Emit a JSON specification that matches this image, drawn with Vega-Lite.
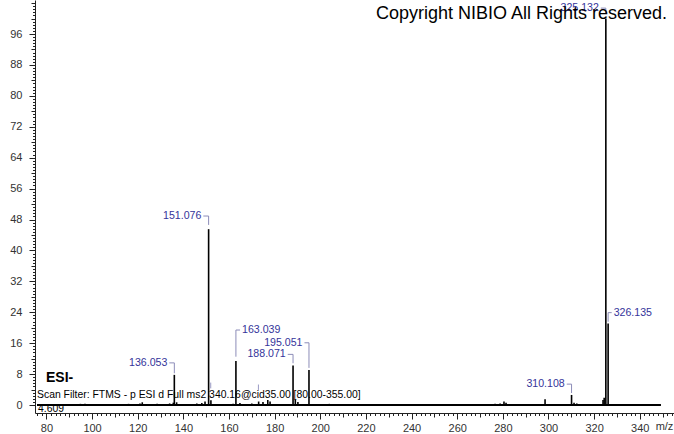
{
  "$schema": "https://vega.github.io/schema/vega-lite/v6.json",
  "autosize": {"type": "none"},
  "padding": {"left": 35, "top": 0, "right": 0, "bottom": 21},
  "width": 639,
  "height": 413,
  "background": "white",
  "view": {"stroke": null},
  "config": {"font": "Liberation Sans", "axis": {"grid": false, "domainColor": "#222222", "tickColor": "#222222", "labelFont": "Liberation Sans", "labelFontSize": 11, "labelColor": "#333333"}},
  "resolve": {"axis": {"x": "independent", "y": "independent"}},
  "datasets": {
    "peaks": [
      {"mz": 94.9, "h": 0.3}, {"mz": 96.9, "h": 0.3}, {"mz": 116.0, "h": 0.3},
      {"mz": 121.0, "h": 0.4}, {"mz": 122.0, "h": 0.7}, {"mz": 128.5, "h": 0.3},
      {"mz": 134.0, "h": 0.4}, {"mz": 135.6, "h": 0.6}, {"mz": 136.053, "h": 7.8},
      {"mz": 137.06, "h": 0.7}, {"mz": 145.9, "h": 0.4}, {"mz": 148.1, "h": 0.5},
      {"mz": 149.5, "h": 0.9}, {"mz": 151.076, "h": 45.5}, {"mz": 152.08, "h": 1.2},
      {"mz": 161.8, "h": 0.3}, {"mz": 163.039, "h": 11.4}, {"mz": 164.8, "h": 0.5},
      {"mz": 170.0, "h": 0.4}, {"mz": 173.0, "h": 0.9}, {"mz": 174.9, "h": 0.8},
      {"mz": 177.0, "h": 1.3}, {"mz": 178.0, "h": 0.9}, {"mz": 188.071, "h": 10.2},
      {"mz": 189.07, "h": 1.4}, {"mz": 190.2, "h": 0.8}, {"mz": 195.051, "h": 9.05},
      {"mz": 204.0, "h": 0.3}, {"mz": 276.6, "h": 0.3}, {"mz": 278.8, "h": 0.4},
      {"mz": 280.5, "h": 0.9}, {"mz": 281.4, "h": 0.6}, {"mz": 298.5, "h": 1.5},
      {"mz": 310.108, "h": 2.6}, {"mz": 311.2, "h": 0.6}, {"mz": 312.4, "h": 0.4},
      {"mz": 323.9, "h": 1.3}, {"mz": 324.4, "h": 1.9}, {"mz": 325.132, "h": 100},
      {"mz": 326.135, "h": 21.1}
    ],
    "labels": [
      {"label": "136.053", "mz": 136.053, "c0": 8.2, "c1": 10.9, "hx": 133.85, "align": "right"},
      {"label": "151.076", "mz": 151.076, "c0": 46.6, "c1": 48.9, "hx": 148.75, "align": "right"},
      {"label": "163.039", "mz": 163.039, "c0": 12.5, "c1": 19.4, "hx": 164.85, "align": "left"},
      {"label": "188.071", "mz": 188.071, "c0": 10.8, "c1": 13.1, "hx": 185.75, "align": "right"},
      {"label": "195.051", "mz": 195.051, "c0": 9.6, "c1": 16.1, "hx": 193.08, "align": "right"},
      {"label": "310.108", "mz": 310.108, "c0": 3.1, "c1": 5.4, "hx": 308.0, "align": "right"},
      {"label": "325.132", "mz": 325.132, "c0": 101.2, "c1": 102.7, "hx": 322.94, "align": "right"},
      {"label": "326.135", "mz": 326.135, "c0": 21.55, "c1": 23.9, "hx": 327.7, "align": "left"}
    ],
    "faint": [
      {"mz": 152.0, "y1": 4.3, "y2": 5.8},
      {"mz": 172.9, "y1": 3.9, "y2": 5.3}
    ],
    "notes": [
      {"kind": "copyright", "x": 351.95, "y": 101.2, "text": "Copyright NIBIO All Rights reserved."},
      {"kind": "esi", "x": 79.8, "y": 7.0, "text": "ESI-"},
      {"kind": "small", "x": 75.9, "y": 2.6, "text": "Scan Filter: FTMS - p ESI d Full ms2 340.16@cid35.00 [80.00-355.00]"},
      {"kind": "small", "x": 76.3, "y": -1.03, "text": "4.609"}
    ]
  },
  "layer": [
    {
      "data": {"name": "peaks"},
      "mark": {"type": "rule", "color": "black", "strokeWidth": 1.6},
      "encoding": {
        "x": {
          "field": "mz", "type": "quantitative",
          "scale": {"domain": [75, 355], "nice": false, "zero": false},
          "axis": {
            "orient": "bottom",
            "title": "m/z",
            "titleFont": "Liberation Sans", "titleFontSize": 11, "titleFontWeight": "normal", "titleColor": "#333333",
            "titleAlign": "center", "titleBaseline": "middle", "titleX": 629, "titleY": 13,
            "values": [80,100,120,140,160,180,200,220,240,260,280,300,320,340],
            "tickSize": 6, "labelPadding": 3,
            "labelOverlap": false, "labelFlush": false, "labelBound": false
          }
        },
        "y": {
          "field": "h", "type": "quantitative",
          "scale": {"domain": [-2.07, 104.8], "nice": false, "zero": false},
          "axis": {
            "orient": "left",
            "title": null,
            "values": [0,8,16,24,32,40,48,56,64,72,80,88,96],
            "tickSize": 6, "labelPadding": 7,
            "labelOverlap": false, "labelFlush": false, "labelBound": false
          }
        },
        "y2": {"datum": 0}
      }
    },
    {
      "data": {"name": "faint"},
      "mark": {"type": "rule", "color": "#9a9ac4", "strokeWidth": 1},
      "encoding": {
        "x": {"field": "mz", "type": "quantitative", "scale": {"domain": [75, 355], "nice": false, "zero": false},
          "axis": {"orient": "bottom", "title": null, "labels": false, "domain": false, "tickSize": 4,
            "values": [90,110,130,150,170,190,210,230,250,270,290,310,330,350]}},
        "y": {"field": "y1", "type": "quantitative", "scale": {"domain": [-2.07, 104.8], "nice": false, "zero": false},
          "axis": {"orient": "left", "title": null, "labels": false, "domain": false, "tickSize": 4,
            "values": [4,12,20,28,36,44,52,60,68,76,84,92,100,104]}},
        "y2": {"field": "y2"}
      }
    },
    {
      "data": {"name": "labels"},
      "mark": {"type": "rule", "color": "#8c8cb8", "strokeWidth": 1},
      "encoding": {
        "x": {"field": "mz", "type": "quantitative", "scale": {"domain": [75, 355], "nice": false, "zero": false},
          "axis": {"orient": "bottom", "title": null, "labels": false, "domain": false, "tickSize": 2.5,
            "values": [76,78,82,84,86,88,92,94,96,98,102,104,106,108,112,114,116,118,122,124,126,128,132,134,136,138,142,144,146,148,152,154,156,158,162,164,166,168,172,174,176,178,182,184,186,188,192,194,196,198,202,204,206,208,212,214,216,218,222,224,226,228,232,234,236,238,242,244,246,248,252,254,256,258,262,264,266,268,272,274,276,278,282,284,286,288,292,294,296,298,302,304,306,308,312,314,316,318,322,324,326,328,332,334,336,338,342,344,346,348,352,354]}},
        "y": {"field": "c0", "type": "quantitative", "scale": {"domain": [-2.07, 104.8], "nice": false, "zero": false},
          "axis": {"orient": "left", "title": null, "labels": false, "domain": false, "tickSize": 2.5,
            "values": [0.8,1.6,2.4,3.2,4.8,5.6,6.4,7.2,8.8,9.6,10.4,11.2,12.8,13.6,14.4,15.2,16.8,17.6,18.4,19.2,20.8,21.6,22.4,23.2,24.8,25.6,26.4,27.2,28.8,29.6,30.4,31.2,32.8,33.6,34.4,35.2,36.8,37.6,38.4,39.2,40.8,41.6,42.4,43.2,44.8,45.6,46.4,47.2,48.8,49.6,50.4,51.2,52.8,53.6,54.4,55.2,56.8,57.6,58.4,59.2,60.8,61.6,62.4,63.2,64.8,65.6,66.4,67.2,68.8,69.6,70.4,71.2,72.8,73.6,74.4,75.2,76.8,77.6,78.4,79.2,80.8,81.6,82.4,83.2,84.8,85.6,86.4,87.2,88.8,89.6,90.4,91.2,92.8,93.6,94.4,95.2,96.8,97.6,98.4,99.2,100.8,101.6,102.4,103.2]}},
        "y2": {"field": "c1"}
      }
    },
    {
      "data": {"name": "peaks"},
      "mark": {"type": "rule", "color": "black", "strokeWidth": 1.6},
      "encoding": {
        "x": {"datum": 75.9, "type": "quantitative", "scale": {"domain": [75, 355], "nice": false, "zero": false}, "axis": null},
        "x2": {"datum": 348.9},
        "y": {"datum": 0, "type": "quantitative", "scale": {"domain": [-2.07, 104.8], "nice": false, "zero": false}, "axis": null}
      }
    },
    {
      "data": {"name": "labels"},
      "mark": {"type": "rule", "color": "#8c8cb8", "strokeWidth": 1},
      "encoding": {
        "x": {"field": "mz", "type": "quantitative", "scale": {"domain": [75, 355], "nice": false, "zero": false}, "axis": null},
        "x2": {"field": "hx"},
        "y": {"field": "c1", "type": "quantitative", "scale": {"domain": [-2.07, 104.8], "nice": false, "zero": false}, "axis": null}
      }
    },
    {
      "data": {"name": "labels"},
      "transform": [{"filter": "datum.align === 'right'"}],
      "mark": {"type": "text", "align": "right", "baseline": "middle", "dx": -2, "font": "Liberation Sans", "fontSize": 10.6, "color": "#34349a"},
      "encoding": {
        "x": {"field": "hx", "type": "quantitative", "scale": {"domain": [75, 355], "nice": false, "zero": false}, "axis": null},
        "y": {"field": "c1", "type": "quantitative", "scale": {"domain": [-2.07, 104.8], "nice": false, "zero": false}, "axis": null},
        "text": {"field": "label"}
      }
    },
    {
      "data": {"name": "labels"},
      "transform": [{"filter": "datum.align === 'left'"}],
      "mark": {"type": "text", "align": "left", "baseline": "middle", "dx": 2, "font": "Liberation Sans", "fontSize": 10.6, "color": "#34349a"},
      "encoding": {
        "x": {"field": "hx", "type": "quantitative", "scale": {"domain": [75, 355], "nice": false, "zero": false}, "axis": null},
        "y": {"field": "c1", "type": "quantitative", "scale": {"domain": [-2.07, 104.8], "nice": false, "zero": false}, "axis": null},
        "text": {"field": "label"}
      }
    },
    {
      "data": {"name": "notes"},
      "transform": [{"filter": "datum.kind === 'copyright'"}],
      "mark": {"type": "text", "align": "right", "baseline": "middle", "font": "Liberation Sans", "fontSize": 18, "color": "black"},
      "encoding": {
        "x": {"field": "x", "type": "quantitative", "scale": {"domain": [75, 355], "nice": false, "zero": false}, "axis": null},
        "y": {"field": "y", "type": "quantitative", "scale": {"domain": [-2.07, 104.8], "nice": false, "zero": false}, "axis": null},
        "text": {"field": "text"}
      }
    },
    {
      "data": {"name": "notes"},
      "transform": [{"filter": "datum.kind === 'esi'"}],
      "mark": {"type": "text", "align": "left", "baseline": "middle", "font": "Liberation Sans", "fontSize": 14, "fontWeight": "bold", "color": "black"},
      "encoding": {
        "x": {"field": "x", "type": "quantitative", "scale": {"domain": [75, 355], "nice": false, "zero": false}, "axis": null},
        "y": {"field": "y", "type": "quantitative", "scale": {"domain": [-2.07, 104.8], "nice": false, "zero": false}, "axis": null},
        "text": {"field": "text"}
      }
    },
    {
      "data": {"name": "notes"},
      "transform": [{"filter": "datum.kind === 'small'"}],
      "mark": {"type": "text", "align": "left", "baseline": "middle", "font": "Liberation Sans", "fontSize": 10.4, "color": "black"},
      "encoding": {
        "x": {"field": "x", "type": "quantitative", "scale": {"domain": [75, 355], "nice": false, "zero": false}, "axis": null},
        "y": {"field": "y", "type": "quantitative", "scale": {"domain": [-2.07, 104.8], "nice": false, "zero": false}, "axis": null},
        "text": {"field": "text"}
      }
    }
  ]
}
